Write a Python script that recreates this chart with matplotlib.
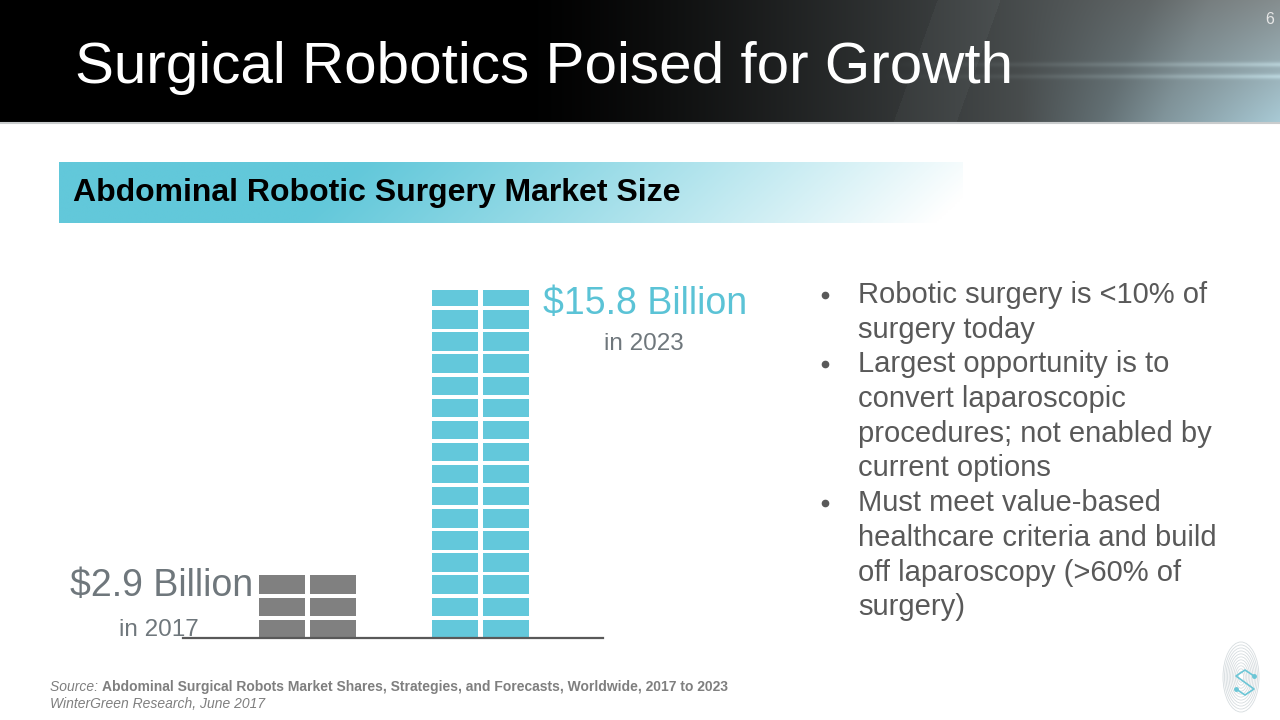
import matplotlib
matplotlib.use("Agg")
import matplotlib.pyplot as plt
import numpy as np
from matplotlib.patches import Ellipse

plt.rcParams['font.family'] = ['Liberation Sans', 'DejaVu Sans']

# data (billions USD, one brick = 1 billion)
years = ['2017', '2023']
market = [2.9, 15.8]
value_labels = ['$2.9 Billion', '$15.8 Billion']
bar_colors = ['#808080', '#63c8db']

title = 'Surgical Robotics Poised for Growth'
banner = 'Abdominal Robotic Surgery Market Size'
bullets = [
    ['Robotic surgery is <10% of', 'surgery today'],
    ['Largest opportunity is to', 'convert laparoscopic',
     'procedures; not enabled by', 'current options'],
    ['Must meet value-based', 'healthcare criteria and build',
     'off laparoscopy (>60% of', 'surgery)'],
]
source_title = 'Abdominal Surgical Robots Market Shares, Strategies, and Forecasts, Worldwide, 2017 to 2023'
source_pub = 'WinterGreen Research, June 2017'

W, H = 1280, 720
fig = plt.figure(figsize=(12.8, 7.2), dpi=100)
bg = fig.add_axes([0, 0, 1, 1])
bg.set_xlim(0, W)
bg.set_ylim(H, 0)
bg.axis('off')

# header background
hh = 123
xx, yy = np.meshgrid(np.arange(W), np.arange(hh))
v = np.clip((xx - 520) / 760, 0, 1) ** 1.3 * 0.5
d = xx + 0.36 * yy
v = v + np.where((d > 937) & (d < 1000), 0.025, 0)
v = v + np.clip((xx + 0.4 * yy - 1150) / 60, 0, 1) * 0.04
corner = np.clip((xx - 1020) / 260, 0, 1) * (yy / hh)
glow = (np.exp(-((yy - 64) / 2.5) ** 2) + np.exp(-((yy - 76) / 2.5) ** 2)) \
    * np.clip((xx - 880) / 400, 0, 1) * 0.13
img = np.zeros((hh, W, 3))
img[..., 0] = v * 0.97 + corner * 0.14 + glow * 0.9
img[..., 1] = v * 1.03 + corner * 0.24 + glow
img[..., 2] = v * 1.04 + corner * 0.28 + glow
bg.imshow(np.clip(img, 0, 1), extent=(0, W, hh, 0), aspect='auto', zorder=0)
bg.plot([0, W], [hh, hh], color='#c9cccd', lw=1.5, zorder=1)

bg.text(75, 83, title, color='white', fontsize=42, va='baseline', ha='left', zorder=2)
bg.text(1274, 24, '6', color='#e6e6e6', fontsize=11.5, va='baseline', ha='right', zorder=2)

# banner
bx0, bx1, by0, by1 = 59, 963, 162, 223
gx, gy = np.meshgrid(np.linspace(bx0, bx1, 400), np.linspace(by0, by1, 40))
t = np.clip((gx - 360) / 640 + (gy - by0) / (by1 - by0) * 0.1, 0, 1) ** 1.1
cyan = np.array([0x62, 0xc8, 0xda]) / 255
bimg = cyan[None, None, :] * (1 - t[..., None]) + np.ones(3)[None, None, :] * t[..., None]
bg.imshow(bimg, extent=(bx0, bx1, by1, by0), aspect='auto', zorder=0)
bg.text(73, 201, banner, color='black', fontsize=23, fontweight='bold', va='baseline', ha='left')

# chart
unit_px = 22.1
base_px = 638
x0_px, x1_px = 183, 603
c0_px, step_px = 307, 173.5
ax = fig.add_axes([x0_px / W, (H - base_px) / H, (x1_px - x0_px) / W, 16 * unit_px / H])
ax.set_xlim((x0_px - c0_px) / step_px, (x1_px - c0_px) / step_px)
ax.set_ylim(0, 16)
ax.axis('off')

col_w = 46 / step_px
col_off = 25.5 / step_px
gap = 0.17
for i, (val, col) in enumerate(zip(market, bar_colors)):
    n = int(np.ceil(val))
    for r in range(n):
        seg = min(1.0, val - r)
        h = seg - gap if seg == 1.0 else seg - gap * 0.3
        for off in (-col_off, col_off):
            ax.bar(i + off, h, bottom=r, width=col_w, color=col, linewidth=0)
ax.axhline(0, color='#595959', lw=1.6, xmin=0, xmax=1, clip_on=False)

label_col = '#6f777c'
bg.text(70, 596, value_labels[0], color=label_col, fontsize=27, va='baseline', ha='left')
bg.text(119, 636, 'in ' + years[0], color=label_col, fontsize=17.5, va='baseline', ha='left')
bg.text(543, 314, value_labels[1], color='#5bc3d6', fontsize=27, va='baseline', ha='left')
bg.text(604, 350, 'in ' + years[1], color=label_col, fontsize=17.5, va='baseline', ha='left')

# bullets
k = 0
for lines in bullets:
    for j, line in enumerate(lines):
        yb = 303 + 34.7 * k
        if j == 0:
            bg.plot(825, yb - 8, 'o', ms=4.5, color='#595959')
        bg.text(858, yb, line, color='#595959', fontsize=21, va='baseline', ha='left')
        k += 1

# source
src_col = '#7f7f7f'
s1 = bg.text(50, 691, 'Source: ', color=src_col, fontsize=10, style='italic', va='baseline', ha='left')
fig.canvas.draw()
ext = s1.get_window_extent()
bg.text(50 + ext.width, 691, source_title, color=src_col, fontsize=10, fontweight='bold',
        va='baseline', ha='left')
bg.text(50, 708, source_pub, color=src_col, fontsize=10, style='italic', va='baseline', ha='left')

# logo
for s in np.linspace(0.15, 1.0, 11):
    bg.add_patch(Ellipse((1241, 677), 36 * s, 70 * s, fill=False, ec='#d6dcdf', lw=0.6))
sx = [1254, 1245, 1236, 1254, 1245, 1236]
sy = [676, 670, 676, 689, 695, 689]
bg.plot(sx, sy, color='#6cc6d6', lw=1.2)
bg.plot([sx[0], sx[-1]], [sy[0], sy[-1]], 'o', ms=2.5, color='#6cc6d6')

fig.savefig('out.png', dpi=100)
